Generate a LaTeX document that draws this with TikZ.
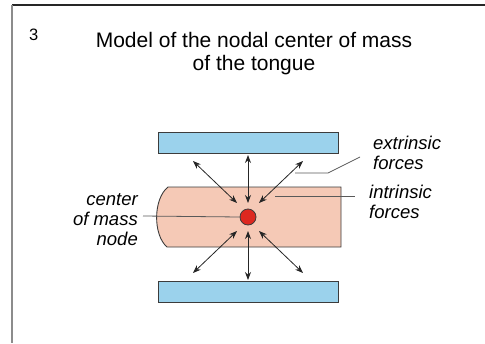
\documentclass[tikz,border=0pt]{standalone}
\usepackage{fontspec}
\setmainfont{Liberation Sans}
\usepackage{tikz}
\usetikzlibrary{arrows.meta, positioning}
\definecolor{barblue}{RGB}{155, 210, 236}
\definecolor{tonguepink}{RGB}{245, 201, 182}
\definecolor{massred}{RGB}{221, 40, 32}
\definecolor{edgegray}{RGB}{60, 60, 60}

\begin{document}
\begin{tikzpicture}[
    x=1pt, y=-1pt,
    bar/.style={rectangle, draw=edgegray, fill=barblue, line width=0.9pt, minimum width=180pt, minimum height=21pt, inner sep=0pt},
    dot/.style={circle, draw=edgegray, fill=massred, line width=0.8pt, minimum size=16pt, inner sep=0pt},
    label/.style={inner sep=0pt, font=\fontsize{18.5}{20}\selectfont\itshape},
    force/.style={{Stealth[length=8pt, width=6pt]}-{Stealth[length=8pt, width=6pt]}, line width=0.8pt, draw=black!85},
    leader/.style={draw=black!65, line width=0.8pt}
]
    \useasboundingbox (0,0) rectangle (485,343);

    % Frame
    \draw[black!85, line width=1.3pt] (485,5) -- (12,5);
    \draw[black!45, line width=1.3pt] (12,5) -- (12,343);

    % Title
    \node[anchor=base west, inner sep=0pt, font=\fontsize{16.5}{18}\selectfont] (num) at (29,40) {3};
    \node[anchor=base, inner sep=0pt, align=center, font=\fontsize{21}{23}\selectfont] (title) at (254,70) {Model of the nodal center of mass\\of the tongue};

    % Tongue
    \path[draw=edgegray, fill=tonguepink, line width=0.9pt] (168,187) -- (341,187) -- (341,247) -- (167,247)
        .. controls (153,235) and (153,199) .. (168,187);

    % Bars
    \node[bar] (upper) at (248,142.5) {};
    \node[bar] (lower) at (248,291.5) {};

    % Center of mass
    \node[dot] (com) at (248,217) {};

    % Arrow ends
    \coordinate (tl) at (193,161);
    \coordinate (tm) at (248,155);
    \coordinate (tr) at (303,161);
    \coordinate (bl) at (193,273);
    \coordinate (bm) at (248,280);
    \coordinate (br) at (303,273);
    \coordinate (ctl) at (237,203);
    \coordinate (ctm) at (248,203);
    \coordinate (ctr) at (259,203);
    \coordinate (cbl) at (237,231);
    \coordinate (cbm) at (248,231);
    \coordinate (cbr) at (259,231);

    % Forces
    \draw[force] (tl) -- (ctl);
    \draw[force] (tm) -- (ctm);
    \draw[force] (tr) -- (ctr);
    \draw[force] (bl) -- (cbl);
    \draw[force] (bm) -- (cbm);
    \draw[force] (br) -- (cbr);

    % Labels
    \node[label, anchor=base west, align=left] (extr) at (373,169) {extrinsic\\forces};
    \node[label, anchor=base west, align=left] (intr) at (369,218) {intrinsic\\forces};
    \node[label, anchor=base east, align=right] (cmlabel) at (138,245) {center\\of mass\\node};

    % Leaders
    \coordinate (extrfoot) at (295,173);
    \coordinate (extrbend) at (328,173);
    \coordinate (extrtip) at (360,157);
    \coordinate (intrfoot) at (275,196);
    \coordinate (intrtip) at (355,196);
    \coordinate (cmtip) at (143,216);
    \draw[leader] (extrfoot) -- (extrbend) -- (extrtip);
    \draw[leader] (intrfoot) -- (intrtip);
    \draw[leader] (cmtip) -- (com.west);
\end{tikzpicture}
\end{document}
